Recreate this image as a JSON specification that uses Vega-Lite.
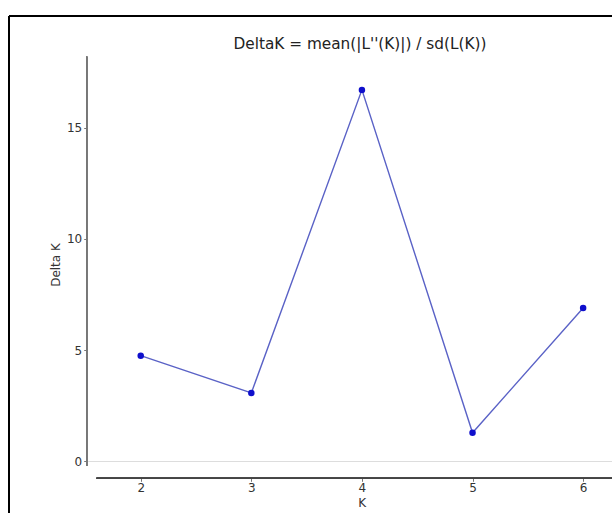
{
  "$schema": "https://vega.github.io/schema/vega-lite/v6.json",
  "autosize": {"type": "none"},
  "width": 603,
  "height": 497,
  "padding": {"left": 9, "top": 16, "right": 0, "bottom": 0},
  "background": "white",
  "config": {"view": {"stroke": null}, "font": "DejaVu Sans"},
  "title": {
    "text": "DeltaK = mean(|L''(K)|) / sd(L(K))",
    "frame": "group",
    "anchor": "middle",
    "dx": 49.5,
    "offset": -49,
    "baseline": "alphabetic",
    "fontSize": 15.3,
    "fontWeight": "normal",
    "color": "#222222",
    "font": "DejaVu Sans"
  },
  "data": {
    "values": [
      {"K": 2, "deltaK": 4.755},
      {"K": 3, "deltaK": 3.08},
      {"K": 4, "deltaK": 16.7},
      {"K": 5, "deltaK": 1.29},
      {"K": 6, "deltaK": 6.9}
    ]
  },
  "layer": [
    {
      "mark": {"type": "line", "color": "#5a62c6", "strokeWidth": 1.4},
      "encoding": {
        "x": {
          "field": "K",
          "type": "quantitative",
          "scale": {"domain": [0.809, 6.261], "zero": false, "nice": false},
          "axis": {
            "values": [2, 3, 4, 5, 6],
            "format": "d",
            "offset": -34.7,
            "domain": false,
            "grid": false,
            "ticks": true,
            "tickSize": 3,
            "tickColor": "#777777",
            "labelFont": "DejaVu Sans",
            "labelFontSize": 12,
            "labelColor": "#333333",
            "labelPadding": 1,
            "title": "K",
            "titleFont": "DejaVu Sans",
            "titleFontSize": 12,
            "titleFontWeight": "normal",
            "titleColor": "#333333",
            "titlePadding": 4,
            "titleX": 352.7
          }
        },
        "y": {
          "field": "deltaK",
          "type": "quantitative",
          "scale": {"domain": [-2.315, 20.02], "zero": false, "nice": false},
          "axis": {
            "values": [0, 5, 10, 15],
            "format": "d",
            "offset": -77.7,
            "domain": false,
            "grid": false,
            "ticks": true,
            "tickSize": 3,
            "tickColor": "#777777",
            "labelFont": "DejaVu Sans",
            "labelFontSize": 12,
            "labelColor": "#333333",
            "labelPadding": 2,
            "title": "Delta K",
            "titleFont": "DejaVu Sans",
            "titleFontSize": 12,
            "titleFontWeight": "normal",
            "titleColor": "#333333",
            "titlePadding": 4
          }
        }
      }
    },
    {
      "mark": {"type": "rule", "color": "#dddddd", "strokeWidth": 1},
      "encoding": {
        "x": {"datum": 1.53, "type": "quantitative"},
        "x2": {"datum": 6.261},
        "y": {"datum": 0, "type": "quantitative"}
      }
    },
    {
      "mark": {"type": "rule", "color": "#777777", "strokeWidth": 1.5},
      "encoding": {
        "x": {"datum": 1.512, "type": "quantitative"},
        "y": {"datum": -0.2, "type": "quantitative"},
        "y2": {"datum": 18.2}
      }
    },
    {
      "mark": {"type": "rule", "color": "#444444", "strokeWidth": 1.5},
      "encoding": {
        "x": {"datum": 1.6, "type": "quantitative"},
        "x2": {"datum": 6.261},
        "y": {"datum": -0.755, "type": "quantitative"}
      }
    },
    {
      "mark": {"type": "rule", "color": "#000000", "strokeWidth": 2},
      "encoding": {
        "x": {"datum": 0.809, "type": "quantitative"},
        "y": {"datum": -2.315, "type": "quantitative"},
        "y2": {"datum": 20.02}
      }
    },
    {
      "mark": {"type": "rule", "color": "#000000", "strokeWidth": 2},
      "encoding": {
        "x": {"datum": 0.809, "type": "quantitative"},
        "x2": {"datum": 6.261},
        "y": {"datum": 20.02, "type": "quantitative"}
      }
    },
    {
      "mark": {"type": "point", "filled": true, "color": "#0f0fcc", "size": 42, "opacity": 1},
      "encoding": {
        "x": {"field": "K", "type": "quantitative"},
        "y": {"field": "deltaK", "type": "quantitative"}
      }
    }
  ]
}
